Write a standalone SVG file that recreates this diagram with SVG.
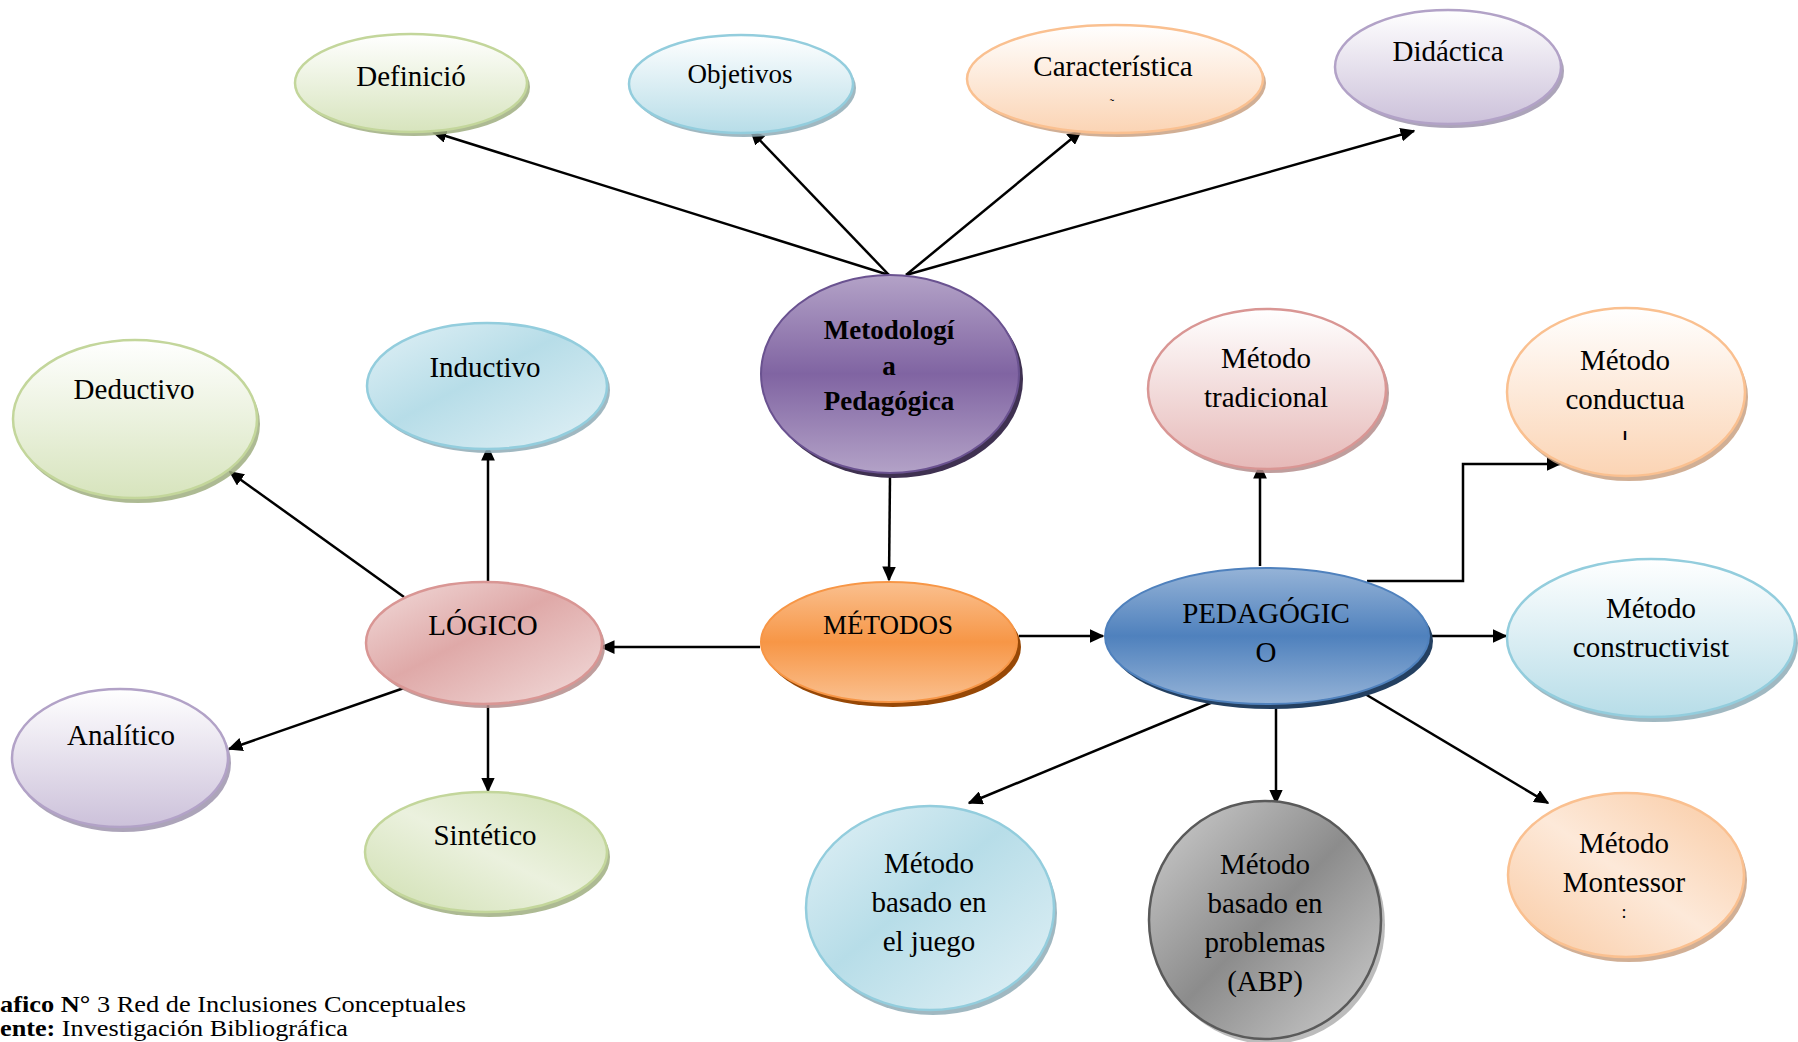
<svg xmlns="http://www.w3.org/2000/svg" width="1798" height="1042" viewBox="0 0 1798 1042">
<style>
text{font-family:"Liberation Serif","Times New Roman",serif;fill:#000;text-anchor:middle}
.t{font-size:29px}
.s{font-size:27px}
.b{font-size:27px;font-weight:bold}
.cap{font-size:24px;text-anchor:start}
.ln{stroke:#000;stroke-width:2.5;fill:none;marker-end:url(#ah)}
.sh{opacity:.85}
</style>
<defs>
<marker id="ah" viewBox="0 0 10 10" refX="9" refY="5" markerWidth="6" markerHeight="5.5" markerUnits="strokeWidth" orient="auto" preserveAspectRatio="none">
<path d="M0,0 L10,5 L0,10 z" fill="#000"/>
</marker>
<linearGradient id="gGreen" x1="0" y1="0" x2="0" y2="1"><stop offset="0" stop-color="#ffffff"/><stop offset="1" stop-color="#d7e4bd"/></linearGradient>
<linearGradient id="gGreenD" x1="0" y1="1" x2="1" y2="0"><stop offset="0" stop-color="#cfdfb0"/><stop offset=".5" stop-color="#ebf1de"/><stop offset="1" stop-color="#d0e0b3"/></linearGradient>
<linearGradient id="gBlue" x1="0" y1="0" x2="0" y2="1"><stop offset="0" stop-color="#ffffff"/><stop offset="1" stop-color="#b7dde8"/></linearGradient>
<linearGradient id="gBlueD" x1="0" y1="0" x2="1" y2="1"><stop offset="0" stop-color="#e2f1f6"/><stop offset=".45" stop-color="#b7dde8"/><stop offset="1" stop-color="#e2f1f6"/></linearGradient>
<linearGradient id="gOrange" x1="0" y1="0" x2="0" y2="1"><stop offset="0" stop-color="#ffffff"/><stop offset="1" stop-color="#fbd4b4"/></linearGradient>
<linearGradient id="gOrangeD" x1="0" y1="1" x2="1" y2="0"><stop offset="0" stop-color="#f9c9a1"/><stop offset=".5" stop-color="#fde9d9"/><stop offset="1" stop-color="#f9c9a1"/></linearGradient>
<linearGradient id="gPurple" x1="0" y1="0" x2="0" y2="1"><stop offset="0" stop-color="#ffffff"/><stop offset="1" stop-color="#ccc1da"/></linearGradient>
<linearGradient id="gRed" x1="0" y1="0" x2="0" y2="1"><stop offset="0" stop-color="#ffffff"/><stop offset="1" stop-color="#e6b9b8"/></linearGradient>
<linearGradient id="gRedD" x1="0" y1="0" x2="1" y2="1"><stop offset="0" stop-color="#f2dcdb"/><stop offset=".45" stop-color="#dfa9a8"/><stop offset="1" stop-color="#f2dcdb"/></linearGradient>
<linearGradient id="gGray" x1="0" y1="0" x2="1" y2="1"><stop offset="0" stop-color="#d0d0d0"/><stop offset=".5" stop-color="#8c8c8c"/><stop offset="1" stop-color="#d0d0d0"/></linearGradient>
<linearGradient id="gMet" x1="0" y1="0" x2="0" y2="1"><stop offset="0" stop-color="#b3a2c7"/><stop offset=".5" stop-color="#8064a2"/><stop offset="1" stop-color="#b3a2c7"/></linearGradient>
<linearGradient id="gMetodos" x1="0" y1="0" x2="0" y2="1"><stop offset="0" stop-color="#fac08f"/><stop offset=".5" stop-color="#f79646"/><stop offset="1" stop-color="#fac08f"/></linearGradient>
<linearGradient id="gPed" x1="0" y1="0" x2="0" y2="1"><stop offset="0" stop-color="#95b3d7"/><stop offset=".5" stop-color="#4f81bd"/><stop offset="1" stop-color="#95b3d7"/></linearGradient>
</defs>
<rect width="1798" height="1042" fill="#ffffff"/>

<g id="connectors">
<line class="ln" x1="889" y1="275" x2="433" y2="132"/>
<line class="ln" x1="889" y1="275" x2="751" y2="131"/>
<line class="ln" x1="906" y1="275" x2="1081" y2="131"/>
<line class="ln" x1="906" y1="275" x2="1414" y2="131"/>
<line class="ln" x1="890" y1="476" x2="889" y2="580"/>
<line class="ln" x1="760" y1="647" x2="601" y2="647"/>
<line class="ln" x1="1019" y1="636" x2="1103" y2="636"/>
<line class="ln" x1="488" y1="581" x2="488" y2="447"/>
<line class="ln" x1="404" y1="597" x2="230" y2="472"/>
<line class="ln" x1="404" y1="688" x2="229" y2="749"/>
<line class="ln" x1="488" y1="704" x2="488" y2="791"/>
<line class="ln" x1="1260" y1="566" x2="1260" y2="465"/>
<polyline class="ln" points="1367,581 1463,581 1463,464 1560,464"/>
<line class="ln" x1="1431" y1="636" x2="1506" y2="636"/>
<line class="ln" x1="1213" y1="702" x2="969" y2="803"/>
<line class="ln" x1="1276" y1="702" x2="1276" y2="803"/>
<line class="ln" x1="1355" y1="688" x2="1548" y2="803"/>
</g>

<g id="definicion">
<ellipse cx="414" cy="87" rx="116" ry="49" fill="#9fae80" class="sh"/>
<ellipse cx="411" cy="83" rx="116" ry="49" fill="url(#gGreen)" stroke="#c3d69b" stroke-width="2.5"/>
<text class="t" x="411" y="86">Definició</text>
</g>
<g id="objetivos">
<ellipse cx="744" cy="88" rx="112" ry="49" fill="#8fabb6" class="sh"/>
<ellipse cx="741" cy="84" rx="112" ry="49" fill="url(#gBlue)" stroke="#93cddd" stroke-width="2.5"/>
<text class="s" x="740" y="83">Objetivos</text>
</g>
<g id="caracteristica">
<ellipse cx="1118" cy="83" rx="148" ry="54" fill="#c9a183" class="sh"/>
<ellipse cx="1115" cy="79" rx="148" ry="54" fill="url(#gOrange)" stroke="#fac090" stroke-width="2.5"/>
<text class="t" x="1113" y="76">Característica</text>
<text x="1112" y="108" style="font-size:13px">˜</text>
</g>
<g id="didactica">
<ellipse cx="1451" cy="71" rx="113" ry="57" fill="#9e94ad" class="sh"/>
<ellipse cx="1448" cy="67" rx="113" ry="57" fill="url(#gPurple)" stroke="#b2a2c7" stroke-width="2.5"/>
<text class="t" x="1448" y="61">Didáctica</text>
</g>

<g id="metodologia">
<ellipse cx="894" cy="379" rx="129" ry="99" fill="#3f3151"/>
<ellipse cx="890" cy="374" rx="129" ry="99" fill="url(#gMet)" stroke="#6a5290" stroke-width="2"/>
<text class="b" x="889" y="339">Metodologí</text>
<text class="b" x="889" y="375">a</text>
<text class="b" x="889" y="410">Pedagógica</text>
</g>

<g id="deductivo">
<ellipse cx="138" cy="424" rx="122" ry="79" fill="#9fae80" class="sh"/>
<ellipse cx="135" cy="419" rx="122" ry="79" fill="url(#gGreen)" stroke="#c3d69b" stroke-width="2.5"/>
<text class="t" x="134" y="399">Deductivo</text>
</g>
<g id="inductivo">
<ellipse cx="490" cy="390" rx="120" ry="63" fill="#8fabb6" class="sh"/>
<ellipse cx="487" cy="386" rx="120" ry="63" fill="url(#gBlueD)" stroke="#93cddd" stroke-width="2.5"/>
<text class="t" x="485" y="377">Inductivo</text>
</g>
<g id="logico">
<ellipse cx="487" cy="647" rx="118" ry="61" fill="#b48d8c" class="sh"/>
<ellipse cx="484" cy="643" rx="118" ry="61" fill="url(#gRedD)" stroke="#d99694" stroke-width="2.5"/>
<text class="t" x="483" y="635">LÓGICO</text>
</g>
<g id="analitico">
<ellipse cx="123" cy="763" rx="108" ry="69" fill="#9e94ad" class="sh"/>
<ellipse cx="120" cy="758" rx="108" ry="69" fill="url(#gPurple)" stroke="#b2a2c7" stroke-width="2.5"/>
<text class="t" x="121" y="745">Analítico</text>
</g>
<g id="sintetico">
<ellipse cx="489" cy="857" rx="121" ry="60" fill="#9fae80" class="sh"/>
<ellipse cx="486" cy="852" rx="121" ry="60" fill="url(#gGreenD)" stroke="#c3d69b" stroke-width="2.5"/>
<text class="t" x="485" y="845">Sintético</text>
</g>

<g id="metodos">
<ellipse cx="893" cy="647" rx="128" ry="60" fill="#974806"/>
<ellipse cx="889" cy="642" rx="128" ry="60" fill="url(#gMetodos)" stroke="#f79646" stroke-width="2"/>
<text class="s" x="888" y="634">MÉTODOS</text>
</g>
<g id="pedagogico">
<ellipse cx="1271" cy="641" rx="162" ry="68" fill="#244061"/>
<ellipse cx="1267" cy="636" rx="162" ry="68" fill="url(#gPed)" stroke="#4f81bd" stroke-width="2"/>
<text class="t" x="1266" y="623">PEDAGÓGIC</text>
<text class="t" x="1266" y="662">O</text>
</g>

<g id="tradicional">
<ellipse cx="1270" cy="393" rx="119" ry="80" fill="#b48d8c" class="sh"/>
<ellipse cx="1267" cy="389" rx="119" ry="80" fill="url(#gRed)" stroke="#d99694" stroke-width="2.5"/>
<text class="t" x="1266" y="368">Método</text>
<text class="t" x="1266" y="407">tradicional</text>
</g>
<g id="conductual">
<ellipse cx="1629" cy="397" rx="119" ry="84" fill="#c9a183" class="sh"/>
<ellipse cx="1626" cy="392" rx="119" ry="84" fill="url(#gOrange)" stroke="#fac090" stroke-width="2.5"/>
<text class="t" x="1625" y="370">Método</text>
<text class="t" x="1625" y="409">conductua</text>
<text x="1625" y="440" style="font-size:16px;font-weight:bold;font-family:'Liberation Sans',Arial,sans-serif">ı</text>
</g>
<g id="constructivista">
<ellipse cx="1654" cy="643" rx="144" ry="79" fill="#8fabb6" class="sh"/>
<ellipse cx="1651" cy="638" rx="144" ry="79" fill="url(#gBlue)" stroke="#93cddd" stroke-width="2.5"/>
<text class="t" x="1651" y="618">Método</text>
<text class="t" x="1651" y="657">constructivist</text>
</g>
<g id="montessori">
<ellipse cx="1629" cy="880" rx="118" ry="82" fill="#c9a183" class="sh"/>
<ellipse cx="1626" cy="875" rx="118" ry="82" fill="url(#gOrangeD)" stroke="#fac090" stroke-width="2.5"/>
<text class="t" x="1624" y="853">Método</text>
<text class="t" x="1624" y="892">Montessor</text>
<text x="1624" y="918" style="font-size:18px">:</text>
</g>
<g id="juego">
<ellipse cx="933" cy="913" rx="124" ry="102" fill="#8fabb6" class="sh"/>
<ellipse cx="930" cy="908" rx="124" ry="102" fill="url(#gBlueD)" stroke="#93cddd" stroke-width="2.5"/>
<text class="t" x="929" y="873">Método</text>
<text class="t" x="929" y="912">basado en</text>
<text class="t" x="929" y="951">el juego</text>
</g>
<g id="abp">
<ellipse cx="1269" cy="925" rx="116" ry="119" fill="#b0b0b0" class="sh"/>
<ellipse cx="1265" cy="920" rx="116" ry="119" fill="url(#gGray)" stroke="#5a5a5a" stroke-width="2.5"/>
<text class="t" x="1265" y="874">Método</text>
<text class="t" x="1265" y="913">basado en</text>
<text class="t" x="1265" y="952">problemas</text>
<text class="t" x="1265" y="991">(ABP)</text>
</g>

<g id="caption">
<text class="cap" x="0" y="1012" textLength="466" lengthAdjust="spacingAndGlyphs"><tspan font-weight="bold">afico N°</tspan> 3 Red de Inclusiones Conceptuales</text>
<text class="cap" x="0" y="1036" textLength="348" lengthAdjust="spacingAndGlyphs"><tspan font-weight="bold">ente:</tspan> Investigación Bibliográfica</text>
</g>
</svg>
